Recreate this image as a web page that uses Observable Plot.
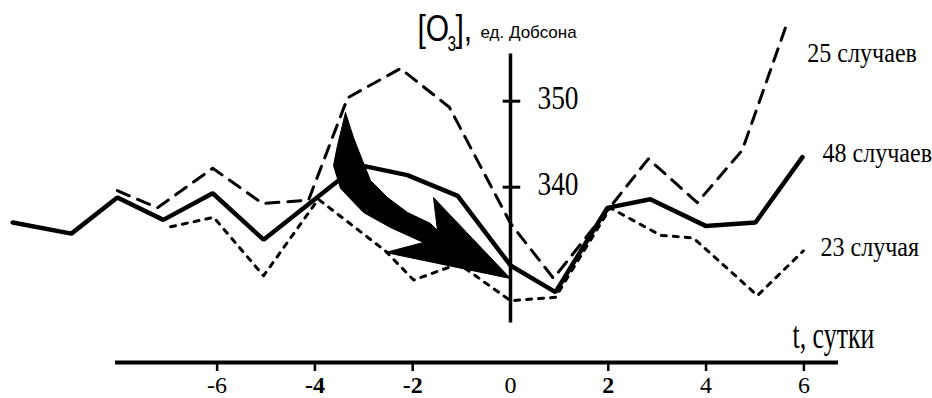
<!DOCTYPE html>
<html><head><meta charset="utf-8">
<script src="https://cdn.jsdelivr.net/npm/d3@7"></script>
<script src="https://cdn.jsdelivr.net/npm/@observablehq/plot@0.6"></script>
<style>html,body{margin:0;padding:0;background:#fff}</style>
</head><body><div id="chart"></div>
<script>
// ---- data (t in days, total ozone in Dobson units) ----
const days48  = [-10.18,-8.98,-8.04,-7.10,-6.09,-5.05,-3.11,-2.11,-1.08,0,0.92,1.98,2.86,3.99,5.01,5.97];
const ozone48 = [335.9,334.6,338.8,336.2,339.3,333.9,342.6,341.4,339.0,330.9,327.8,337.6,338.6,335.5,335.9,343.5];
const days25  = [-8.04,-7.22,-6.09,-5.07,-4.13,-3.33,-2.25,-1.25,0,0.88,2.82,3.82,4.74,5.64];
const ozone25 = [339.6,337.6,342.2,338.1,338.5,350.4,353.8,349.3,335.8,329.4,343.3,338.2,344.3,358.8];
const days23  = [-6.95,-6.07,-5.05,-3.93,-2.56,-1.98,-1.06,0,0.92,2.04,3.07,3.74,5.05,5.99];
const ozone23 = [335.4,336.5,329.7,338.6,332.6,329.2,331.1,326.8,327.2,337.6,334.4,334.1,327.4,332.6];
const seriesLabels = ["48 случаев", "25 случаев", "23 случая"];

const xTicks = [-6,-4,-2,0,2,4,6];
const xTickLabels = ["-6","-4","-2","0","2","4","6"];
const boldTicks = [-4,-2,2];
const yTicks = [340, 350];
const yTickLabels = ["340","350"];
const yTitle = ["[O", "3", "],", "ед. Добсона"];
const xTitle = "t, сутки";

// decorative arrow outline (t, ozone)
const arrowT = [-3.374,-3.211,-3.027,-2.863,-2.515,-2.106,-1.636,-1.493,-1.575,0,-2.556,-1.779,-2.454,-3.006,-3.476,-3.620,-3.538,-3.374];
const arrowV = [348.69,345.78,343.10,340.78,338.80,337.06,335.78,334.97,338.80,329.38,332.41,333.57,335.31,337.06,339.85,342.52,344.85,348.69];

// ---- tables ----
const toRows = (ts, vs, label) => ts.map((t, i) => ({t, v: vs[i], label}));
const s48 = toRows(days48, ozone48, seriesLabels[0]);
const s25 = toRows(days25, ozone25, seriesLabels[1]);
const s23 = toRows(days23, ozone23, seriesLabels[2]);
const arrow = arrowT.map((t, i) => ({t, v: arrowV[i]}));

const serif = "Liberation Serif, Times New Roman, serif";
const sans = "Liberation Sans, Arial, sans-serif";
const yAxisTop = 355.5, yAxisBottom = 324.2;

const chart = Plot.plot({
  width: 932, height: 398,
  marginLeft: 115, marginRight: 94, marginTop: 0, marginBottom: 36,
  style: {background: "#fff", color: "#000"},
  x: {domain: [-8.078, 6.708], axis: null},
  y: {domain: [319.616, 361.709], axis: null},
  marks: [
    Plot.line(s48, {x: "t", y: "v", stroke: "#000", strokeWidth: 4.5, strokeLinejoin: "miter"}),
    Plot.line(s25, {x: "t", y: "v", stroke: "#000", strokeWidth: 3, strokeDasharray: "13 9"}),
    Plot.line(s23, {x: "t", y: "v", stroke: "#000", strokeWidth: 3, strokeDasharray: "5 7"}),
    Plot.line(arrow, {x: "t", y: "v", fill: "#000", stroke: "#000", strokeWidth: 1}),
    // vertical ozone axis at t = 0
    Plot.ruleX([0], {y1: yAxisBottom, y2: yAxisTop, stroke: "#000", strokeWidth: 3.5}),
    Plot.ruleY(yTicks, {x1: -0.15, x2: 0.21, stroke: "#000", strokeWidth: 3}),
    Plot.text(yTicks, {x: 0, y: d => d, text: (d, i) => yTickLabels[i], dx: 27, dy: -2.6,
      textAnchor: "start", lineAnchor: "middle", fontSize: 33, fontFamily: serif, fill: "#000"}),
    // bottom time axis
    Plot.ruleY([319.616], {stroke: "#000", strokeWidth: 4}),
    Plot.axisX({ticks: xTicks.filter(d => d !== 0), tickSize: 9, tickFormat: () => "", label: null, stroke: "#000", strokeWidth: 2.5}),
    Plot.text(xTicks.filter(d => !boldTicks.includes(d)), {x: d => d, text: d => xTickLabels[xTicks.indexOf(d)],
      frameAnchor: "bottom", lineAnchor: "middle", dy: 23, fontSize: 24, fontFamily: serif, fill: "#000"}),
    Plot.text(xTicks.filter(d => boldTicks.includes(d)), {x: d => d, text: d => xTickLabels[xTicks.indexOf(d)],
      frameAnchor: "bottom", lineAnchor: "middle", dy: 23, fontSize: 24, fontWeight: "bold", fontFamily: serif, fill: "#000"}),
    Plot.text([xTitle], {frameAnchor: "bottom-right", textAnchor: "start", lineAnchor: "middle", dx: -46, dy: -26.2,
      fontSize: 38, fontFamily: serif, fill: "#000"}),
    // series labels next to the last points
    Plot.text(s25, Plot.selectLast({x: "t", y: "v", text: "label", dx: 21, dy: 28, textAnchor: "start", lineAnchor: "middle",
      fontSize: 28, fontFamily: serif, fill: "#000"})),
    Plot.text(s48, Plot.selectLast({x: "t", y: "v", text: "label", dx: 20, dy: -4, textAnchor: "start", lineAnchor: "middle",
      fontSize: 28, fontFamily: serif, fill: "#000"})),
    Plot.text(s23, Plot.selectLast({x: "t", y: "v", text: "label", dx: 17, dy: -4, textAnchor: "start", lineAnchor: "middle",
      fontSize: 28, fontFamily: serif, fill: "#000"})),
    // ozone axis title
    Plot.text([yTitle[0]], {frameAnchor: "top-left", textAnchor: "start", lineAnchor: "middle", dx: 302, dy: 28.2,
      fontSize: 37, fontFamily: sans, fill: "#000"}),
    Plot.text([yTitle[1]], {frameAnchor: "top-left", textAnchor: "start", lineAnchor: "middle", dx: 332, dy: 43,
      fontSize: 22, fontFamily: sans, fill: "#000"}),
    Plot.text([yTitle[2]], {frameAnchor: "top-left", textAnchor: "start", lineAnchor: "middle", dx: 340, dy: 28.2,
      fontSize: 37, fontFamily: sans, fill: "#000"}),
    Plot.text([yTitle[3]], {frameAnchor: "top-left", textAnchor: "start", lineAnchor: "middle", dx: 365, dy: 32,
      fontSize: 17, fontFamily: sans, fill: "#000"})
  ]
});

// condense glyphs horizontally like the original narrow typeface
const squeezeBy = new Map([
  ["340", 0.83], ["350", 0.83],
  ["25 случаев", 0.86], ["48 случаев", 0.86], ["23 случая", 0.86],
  ["t, сутки", 0.68], ["[O", 0.81], ["],", 0.81], ["3", 0.7]
]);
chart.querySelectorAll("text").forEach(t => {
  const s = squeezeBy.get(t.textContent);
  if (!s) return;
  const x = +t.getAttribute("x") || 0, y = +t.getAttribute("y") || 0;
  const tr = t.getAttribute("transform") || "";
  t.setAttribute("transform", `${tr} translate(${x},${y}) scale(${s},1) translate(${-x},${-y})`);
});

document.getElementById("chart").appendChild(chart);
</script>
</body></html>
